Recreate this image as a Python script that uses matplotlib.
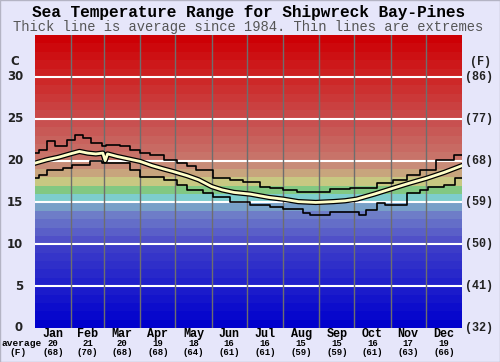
import numpy as np
import matplotlib.pyplot as plt
import matplotlib.transforms as mtransforms
from matplotlib.patches import Rectangle

# month data
months = ['Jan', 'Feb', 'Mar', 'Apr', 'May', 'Jun', 'Jul', 'Aug', 'Sep', 'Oct', 'Nov', 'Dec']
month_days = [31, 28, 31, 30, 31, 30, 31, 31, 30, 31, 30, 31]
avg_c = [20, 21, 20, 19, 18, 16, 16, 15, 15, 16, 17, 19]
avg_f = [68, 70, 68, 68, 64, 61, 61, 59, 59, 61, 63, 66]

# average line (day of year, deg C)
avg_days = [0, 10, 20, 30, 38, 45, 52, 58, 60, 62, 70, 80, 90, 100, 110, 118, 130, 140,
            151, 160, 170, 184, 200, 212, 225, 240, 255, 265, 275, 290, 306, 320, 335, 350, 365]
avg_vals = [19.7, 20.1, 20.4, 20.8, 21.1, 20.9, 20.8, 20.9, 20.0, 20.8, 20.5, 20.2, 19.9, 19.4,
            19.0, 18.7, 18.2, 17.7, 16.9, 16.5, 16.2, 16.0, 15.6, 15.4, 15.1, 15.0, 15.1, 15.2,
            15.4, 16.0, 16.7, 17.3, 17.9, 18.6, 19.4]

# upper extreme (step starts)
max_days = [0, 3, 10, 17, 27, 34, 41, 48, 57, 61, 73, 81, 90, 98, 110, 121, 130, 138, 152,
            167, 178, 192, 201, 212, 224, 231, 252, 269, 292, 306, 318, 329, 343, 358, 365]
max_vals = [20.9, 21.3, 22.3, 21.7, 22.5, 23.1, 22.7, 22.1, 21.7, 21.9, 21.7, 21.3, 20.9, 20.7,
            20.1, 19.7, 19.3, 18.9, 17.9, 17.7, 17.5, 16.9, 16.7, 16.5, 16.3, 16.2, 16.6, 16.7,
            17.3, 17.7, 18.3, 18.9, 20.1, 20.7, 20.7]

# lower extreme (step starts)
min_days = [0, 3, 10, 24, 32, 47, 57, 81, 90, 110, 121, 130, 144, 152, 167, 184, 201, 212,
            229, 235, 252, 277, 283, 292, 299, 306, 318, 329, 336, 350, 359, 365]
min_vals = [17.9, 18.3, 18.9, 19.1, 19.5, 19.9, 19.7, 18.9, 18.1, 17.7, 17.1, 16.5, 16.1, 15.7,
            15.1, 14.7, 14.5, 14.2, 13.7, 13.5, 13.9, 13.5, 14.1, 14.9, 14.7, 14.7, 16.1, 16.5,
            16.9, 17.1, 17.9, 17.9]

# band colours (deg C -> rgb)
anchor_t = [0, 9, 10, 13, 14, 15, 16, 17, 18, 19, 20, 24, 29, 34]
anchor_rgb = [(0, 0, 205), (60, 60, 200), (80, 80, 200), (110, 125, 200), (120, 160, 200),
              (125, 205, 205), (130, 200, 130), (200, 200, 130), (200, 165, 125),
              (200, 140, 120), (200, 115, 105), (200, 80, 80), (205, 40, 40), (205, 0, 5)]

bg = '#e6e6fa'
fig = plt.figure(figsize=(5, 3.62), dpi=100, facecolor=bg)
fig.patches.append(Rectangle((0, 0), 1, 1, transform=fig.transFigure, fill=False,
                             edgecolor='#b4b4c4', lw=1.0))
ax = fig.add_axes([0.07, 0.094, 0.854, 0.809])

anchor_rgb = np.array(anchor_rgb) / 255.0
for i in range(35):
    c = [np.interp(i, anchor_t, anchor_rgb[:, k]) for k in range(3)]
    ax.axhspan(i, i + 1, color=c, lw=0)

for t in range(5, 35, 5):
    ax.axhline(t, color='white', lw=1.5, zorder=2)

bounds = np.cumsum(month_days)
for b in bounds[:-1]:
    ax.axvline(b, color='#6e6e6e', lw=1, zorder=2)

ax.step(max_days, max_vals, where='post', color='black', lw=1.2, zorder=3)
ax.step(min_days, min_vals, where='post', color='black', lw=1.2, zorder=3)
ax.plot(avg_days, avg_vals, color='black', lw=3.8, zorder=4)
ax.plot(avg_days, avg_vals, color='#ffffc8', lw=2.0, zorder=5)

ax.set_xlim(0, 365)
ax.set_ylim(0, 35)
ax.set_xticks([])
ax.set_yticks([])
for s in ax.spines.values():
    s.set_visible(False)

mono = 'Liberation Mono'
fig.text(0.497, 0.966, 'Sea Temperature Range for Shipwreck Bay-Pines', ha='center', va='center',
         family=mono, weight='bold', fontsize=11.6, color='black')
fig.text(0.497, 0.925, 'Thick line is average since 1984. Thin lines are extremes', ha='center',
         va='center', family=mono, fontsize=9.9, color='#555555')

ylab = mtransforms.blended_transform_factory(fig.transFigure, ax.transData)
for t in range(0, 35, 5):
    fig.text(0.046, t, str(t), transform=ylab, ha='right', va='center',
             family='DejaVu Sans', weight='bold', fontsize=8.5, color='#222222')
    fig.text(0.93, t, '(%d)' % round(t * 9 / 5 + 32), transform=ylab, ha='left', va='center',
             family=mono, weight='bold', fontsize=8.5, color='#222222')
fig.text(0.03, 31.8, 'C', transform=ylab, ha='center', va='center',
         family='DejaVu Sans', weight='bold', fontsize=8.5, color='#222222')
fig.text(0.96, 31.8, '(F)', transform=ylab, ha='center', va='center',
         family=mono, weight='bold', fontsize=8.5, color='#222222')

xlab = mtransforms.blended_transform_factory(ax.transData, fig.transFigure)
mids = bounds - np.array(month_days) / 2.0
for m, x, c, f in zip(months, mids, avg_c, avg_f):
    fig.text(x, 0.077, m, transform=xlab, ha='center', va='center', family=mono,
             weight='bold', fontsize=8.5)
    fig.text(x, 0.051, str(c), transform=xlab, ha='center', va='center', family=mono,
             weight='bold', fontsize=6.5)
    fig.text(x, 0.027, '(%d)' % f, transform=xlab, ha='center', va='center', family=mono,
             weight='bold', fontsize=6.5)
fig.text(0.044, 0.051, 'average', ha='center', va='center', family=mono, weight='bold', fontsize=6.8)
fig.text(0.036, 0.027, '(F)', ha='center', va='center', family=mono, weight='bold', fontsize=6.8)

fig.savefig('out.png', dpi=100, facecolor=bg)
